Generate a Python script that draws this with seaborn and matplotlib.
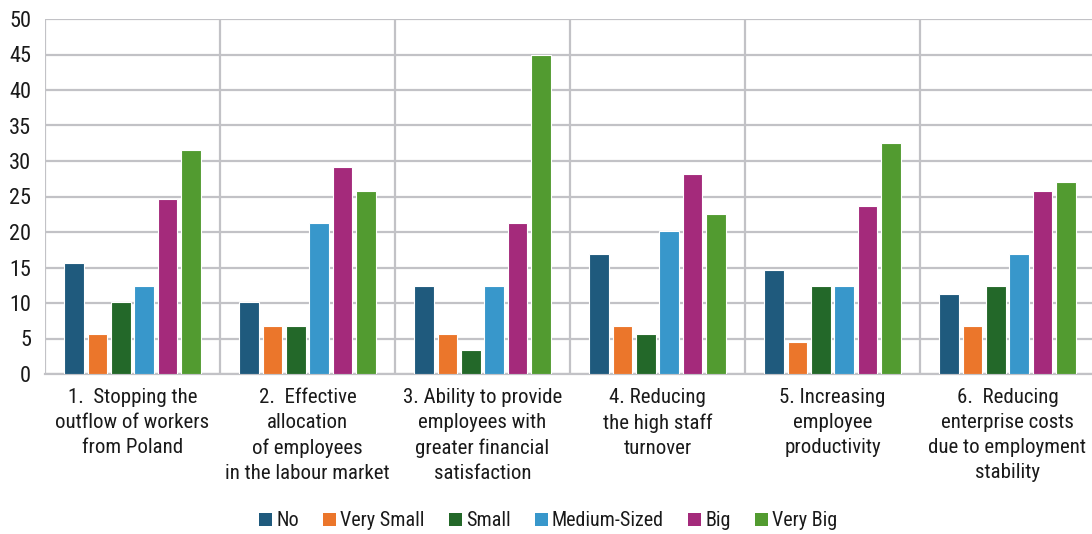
import matplotlib
matplotlib.use("Agg")
import matplotlib.pyplot as plt
from matplotlib import font_manager
from matplotlib.patches import Patch
import seaborn as sns
import pandas as pd

# Survey results, % of respondents per answer
categories = [
    "1.  Stopping the\noutflow of workers\nfrom Poland",
    "2.  Effective\nallocation\nof employees\nin the labour market",
    "3. Ability to provide\nemployees with\ngreater financial\nsatisfaction",
    "4. Reducing\nthe high staff\nturnover",
    "5. Increasing\nemployee\nproductivity",
    "6.  Reducing\nenterprise costs\ndue to employment\nstability",
]
levels = ["No", "Very Small", "Small", "Medium-Sized", "Big", "Very Big"]
no = [15.7, 10.1, 12.4, 16.9, 14.6, 11.2]
very_small = [5.6, 6.7, 5.6, 6.7, 4.5, 6.7]
small = [10.1, 6.7, 3.4, 5.6, 12.4, 12.4]
medium_sized = [12.4, 21.3, 12.4, 20.2, 12.4, 16.9]
big = [24.7, 29.2, 21.3, 28.1, 23.6, 25.8]
very_big = [31.5, 25.8, 44.9, 22.5, 32.6, 27.0]
colors = ["#1f5a7d", "#eb762b", "#236829", "#3897cb", "#a42a7b", "#529b30"]

series = [no, very_small, small, medium_sized, big, very_big]
rows = []
for lvl, vals in zip(levels, series):
    for cat, v in zip(categories, vals):
        rows.append({"category": cat, "level": lvl, "value": v})
df = pd.DataFrame(rows)

sns.set_theme(style="white")
installed = {f.name for f in font_manager.fontManager.ttflist}
family = next((f for f in ["Liberation Sans Narrow", "Roboto Condensed", "Roboto", "DejaVu Sans"]
               if f in installed), "DejaVu Sans")
plt.rcParams["font.family"] = [family, "DejaVu Sans"]
plt.rcParams["text.color"] = "#1a1a1a"

fig = plt.figure(figsize=(10.92, 5.34), dpi=100)
W, H = 1092, 534
x0, x1, y_top, y_bot = 45, 1095, 19, 374
ax = fig.add_axes([x0 / W, 1 - y_bot / H, (x1 - x0) / W, (y_bot - y_top) / H])

sns.barplot(data=df, x="category", y="value", hue="level", hue_order=levels,
            order=categories, palette=colors, width=0.8, gap=0.16,
            edgecolor="white", linewidth=0.8, saturation=1, ax=ax, legend=False, zorder=3)

grid_c = "#c2c2c6"
ax.set_ylim(0, 50)
ax.set_xlim(-0.5, len(categories) - 0.5)
ax.set_yticks(range(0, 51, 5))
ax.yaxis.grid(True, color=grid_c, linewidth=1.6, zorder=0)
for i in range(len(categories) + 1):
    ax.axvline(i - 0.5, color=grid_c, linewidth=1.6, zorder=0)
for s in ["top", "right", "left"]:
    ax.spines[s].set_visible(False)
ax.spines["bottom"].set_color(grid_c)
ax.spines["bottom"].set_linewidth(1.6)
ax.set_xlabel("")
ax.set_ylabel("")
ax.tick_params(axis="y", length=0, pad=10, labelsize=16, labelcolor="#1a1a1a")
ax.tick_params(axis="x", length=0, pad=10, labelsize=15, labelcolor="#1a1a1a")
for lab in ax.get_xticklabels():
    lab.set_linespacing(1.4)

handles = [Patch(facecolor=c, edgecolor="none") for c in colors]
fig.legend(handles, levels, loc="center", bbox_to_anchor=(548 / W, 1 - 521 / H),
           ncol=6, frameon=False, fontsize=14.5, handlelength=0.65, handleheight=0.65,
           handletextpad=0.2, columnspacing=1.2)

fig.savefig("out.png", dpi=100)
